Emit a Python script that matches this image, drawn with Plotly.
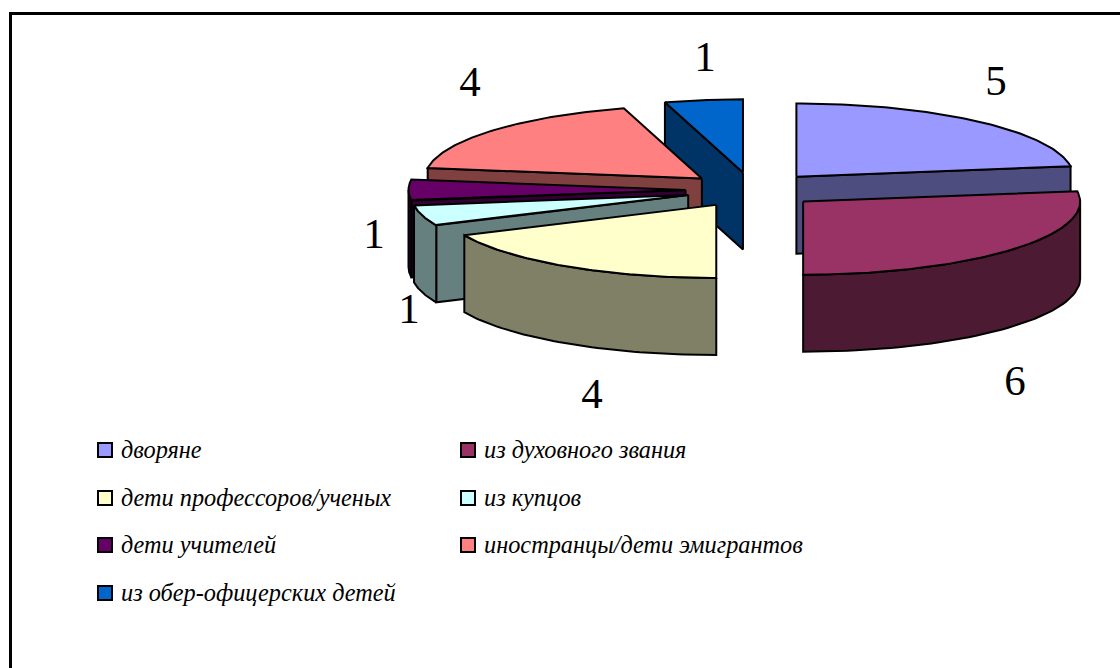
import numpy as np
import plotly.graph_objects as go

categories = ["дворяне", "из духовного звания", "дети профессоров/ученых", "из купцов",
              "дети учителей", "иностранцы/дети эмигрантов", "из обер-офицерских детей"]
values = [5, 6, 4, 1, 1, 4, 1]
top_colors = ["#9999FF", "#993366", "#FFFFCC", "#CCFFFF", "#660066", "#FF8080", "#0066CC"]
side_colors = ["#4D4D80", "#4D1A33", "#808066", "#668080", "#330033", "#804040", "#003366"]

# projection of the 3-D pie (layout parameters, in pixels)
CX, CY, RX, KY, EXPLODE, DEPTH = 752.5, 190.0, 277.0, 0.264, 67.0, 77.0
PAINT_ORDER = [0, 6, 5, 4, 3, 2, 1]
LABEL_XY = [(996, 84), (1015, 384), (592, 397), (409, 312), (374, 237), (470, 85), (705, 60)]
LEGEND_XY = [(105, 450), (468, 450), (105, 498), (468, 498), (105, 545), (468, 545), (105, 593)]
LEGEND_TEXT_DX, LEGEND_TEXT_DY = 16, 2
LABEL_FONT = dict(family="Liberation Serif", size=43, color="black")
LEGEND_FONT = dict(family="Liberation Serif", size=24.3, color="black", style="italic")

total = sum(values)
edges = np.radians(np.concatenate([[0], np.cumsum(values)]) * 360.0 / total)


def project(a, ax, ay, r=RX, dz=0.0):
    return ax + r * np.sin(a), ay - r * KY * np.cos(a) + dz


def poly(xs, ys, color):
    return go.Scatter(x=list(xs) + [xs[0]], y=list(ys) + [ys[0]], mode="lines", fill="toself",
                      fillcolor=color, line=dict(color="black", width=2),
                      hoverinfo="skip", showlegend=False)


fig = go.Figure()
for i in PAINT_ORDER:
    a0, a1 = edges[i], edges[i + 1]
    mid = (a0 + a1) / 2
    ax, ay = project(mid, CX, CY, EXPLODE)
    # radial cut faces that look towards the viewer
    for a, visible in ((a1, np.sin(a1) > 1e-6), (a0, np.sin(a0) < -1e-6)):
        if visible:
            rx, ry = project(a, ax, ay)
            fig.add_trace(poly([ax, rx, rx, ax], [ay, ry, ry + DEPTH, ay + DEPTH], side_colors[i]))
    # outer rim, front half only
    lo, hi = max(a0, np.pi / 2), min(a1, 3 * np.pi / 2)
    if hi > lo:
        t = np.linspace(lo, hi, 50)
        rx, ry = project(t, ax, ay)
        fig.add_trace(poly(np.r_[rx, rx[::-1]], np.r_[ry, ry[::-1] + DEPTH], side_colors[i]))
    # top face
    t = np.linspace(a0, a1, 80)
    rx, ry = project(t, ax, ay)
    fig.add_trace(poly(np.r_[ax, rx], np.r_[ay, ry], top_colors[i]))

# value labels
fig.add_trace(go.Scatter(x=[p[0] for p in LABEL_XY], y=[p[1] for p in LABEL_XY], mode="text",
                         text=[str(v) for v in values], textfont=LABEL_FONT,
                         textposition="middle center", hoverinfo="skip", showlegend=False))
# legend
for name, color, (x, y) in zip(categories, top_colors, LEGEND_XY):
    fig.add_trace(go.Scatter(x=[x], y=[y], mode="markers",
                             marker=dict(symbol="square", size=14, color=color,
                                         line=dict(color="black", width=2)),
                             hoverinfo="skip", showlegend=False))
    fig.add_trace(go.Scatter(x=[x + LEGEND_TEXT_DX], y=[y + LEGEND_TEXT_DY], mode="text", text=[name],
                             textposition="middle right", textfont=LEGEND_FONT,
                             hoverinfo="skip", showlegend=False))

frame = dict(type="line", line=dict(color="black", width=3), xref="x", yref="y")
fig.update_layout(
    width=1120, height=668, margin=dict(l=0, r=0, t=0, b=0),
    paper_bgcolor="white", plot_bgcolor="white", showlegend=False,
    xaxis=dict(range=[0, 1120], visible=False, fixedrange=True),
    yaxis=dict(range=[668, 0], visible=False, fixedrange=True),
    shapes=[dict(frame, x0=10.5, x1=10.5, y0=12, y1=668), dict(frame, x0=9, x1=1120, y0=13.5, y1=13.5)],
)
fig.write_html("out.html", config=dict(displayModeBar=False),
               post_script="document.body.style.margin='0';")
